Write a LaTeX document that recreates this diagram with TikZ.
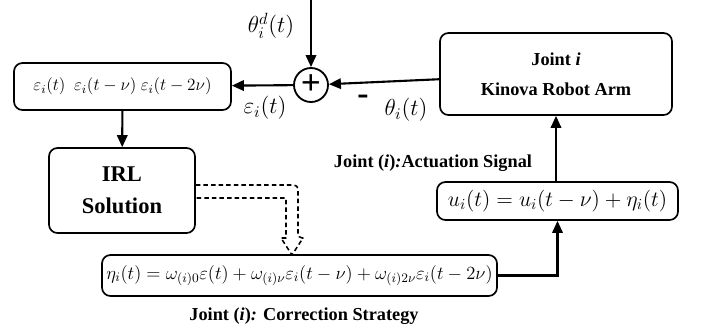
\RequirePackage{fix-cm}
\documentclass[tikz,border=0pt]{standalone}
\usepackage{amsmath,amssymb}
\usepackage{fontspec}
\setmainfont{Liberation Serif}
\usetikzlibrary{arrows.meta,calc,positioning}
\tikzset{
  blk/.style={draw,line width=1.2pt,rounded corners=6pt,align=center,inner sep=2pt},
  sumnode/.style={draw,circle,line width=1.3pt,minimum size=34*0.025cm,inner sep=0pt},
  sig/.style={line width=1.5pt,-{Triangle[length=3mm,width=2.6mm]}},
  hollow/.style={line width=1.1pt,dashed,dash pattern=on 3.2pt off 2.2pt,line join=round},
  lbl/.style={font=\fontsize{13}{15}\selectfont\bfseries},
  mlbl/.style={font=\fontsize{16.5}{19}\selectfont,inner sep=1pt},
}

\begin{document}
\begin{tikzpicture}[x=0.025cm,y=-0.025cm]
    \useasboundingbox (0,0) rectangle (704,331);
    % ------------- blocks -------------
    \node[blk,minimum width=217*0.025cm,minimum height=47*0.025cm,font=\fontsize{12.2}{15}\selectfont] (err) at (122.5,86.5)
      {$\varepsilon_i(t)\ \ \varepsilon_i(t-\nu)\ \varepsilon_i(t-2\nu)$};
    \node[sumnode] (sum) at (311,85) {\fontsize{25}{25}\selectfont\bfseries +};
    \node[blk,minimum width=232*0.025cm,minimum height=82*0.025cm,font=\fontsize{13}{15}\selectfont\bfseries] (arm) at (556,74)
      {Joint \textit{i}\\[6pt] Kinova Robot Arm};
    \node[blk,minimum width=146*0.025cm,minimum height=85*0.025cm,font=\fontsize{16}{19}\selectfont\bfseries] (irl) at (122,190.5)
      {IRL\\[4pt] Solution};
    \node[blk,minimum width=241*0.025cm,minimum height=38*0.025cm,font=\fontsize{15.5}{19}\selectfont] (act) at (557.5,201)
      {$u_i(t) = u_i(t-\nu) + \eta_i(t)$};
    \node[blk,minimum width=395*0.025cm,minimum height=41*0.025cm,font=\fontsize{13.2}{15}\selectfont,inner sep=1pt] (corr) at (299.5,275.5)
      {$\eta_i(t) = \omega_{(i)0}\varepsilon(t) + \omega_{(i)\nu}\varepsilon_i(t-\nu) + \omega_{(i)2\nu}\varepsilon_i(t-2\nu)$};
    % ------------- signals -------------
    \coordinate (ref) at (311,0);
    \draw[sig] (ref) -- (sum);
    \draw[sig] (sum) -- (err);
    \draw[sig] (arm) -- (sum);
    \draw[sig] (err) -- (irl);
    \draw[sig] (act.north -| arm.south) -- (arm.south);
    \draw[sig] (corr.east) -| (act.south);
    % hollow dashed arrow from IRL to the correction block
    \draw[hollow] ($(irl.east)+(0,-5.5)$) -- (293,185) [rounded corners=3pt] -- (298,185) -- (298,238) [sharp corners]
      -- (303,238) -- (292,255) -- (281,238) -- (286,238) -- (286,198) -- ($(irl.east)+(0,7.5)$);
    % ------------- labels -------------
    \node[mlbl] (thd) at (271,26) {$\theta_i^d(t)$};
    \node[mlbl] (e) at (265,108) {$\varepsilon_i(t)$};
    \node[font=\fontsize{24}{24}\selectfont\bfseries] (minus) at (363,100) {-};
    \node[mlbl] (th) at (406,110) {$\theta_i(t)$};
    \node[lbl] (actlbl) at (433,163) {Joint (\textit{i})\textit{:}Actuation Signal};
    \node[lbl] (corrlbl) at (304,316) {Joint (\textit{i})\textit{:} Correction Strategy};
\end{tikzpicture}
\end{document}
